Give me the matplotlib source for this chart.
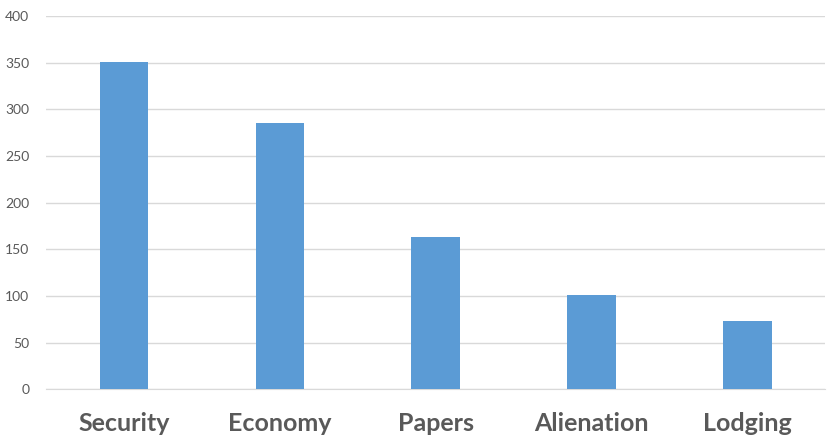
import numpy as np
import matplotlib
matplotlib.use('Agg')
import matplotlib.pyplot as plt

categories = ['Security', 'Economy', 'Papers', 'Alienation', 'Lodging']
counts = [351, 285, 163, 101, 73]
y_ticks = [0, 50, 100, 150, 200, 250, 300, 350, 400]

fig = plt.figure(figsize=(8.29, 4.38), dpi=100)
ax = fig.add_axes([0.0555, 0.111, 0.94, 0.8525])

x = np.arange(len(categories))
ax.bar(x, counts, width=0.31, color='#5B9BD5', zorder=3)

ax.set_xlim(-0.5, len(categories) - 0.5)
ax.set_ylim(0, 400)
ax.set_yticks(y_ticks)
ax.set_yticklabels([str(v) for v in y_ticks], fontsize=10, color='#595959', family='Lato')
ax.set_xticks(x)
ax.set_xticklabels(categories, fontsize=18, fontweight='bold', color='#595959', family='Lato')

# グリッド線
ax.grid(axis='y', color='#D9D9D9', linewidth=1, zorder=0)
for s in ['top', 'right', 'left']:
    ax.spines[s].set_visible(False)
ax.spines['bottom'].set_color('#D9D9D9')
ax.tick_params(axis='both', length=0)
ax.tick_params(axis='y', pad=12)
ax.tick_params(axis='x', pad=16)

fig.savefig('out.png', dpi=100)
